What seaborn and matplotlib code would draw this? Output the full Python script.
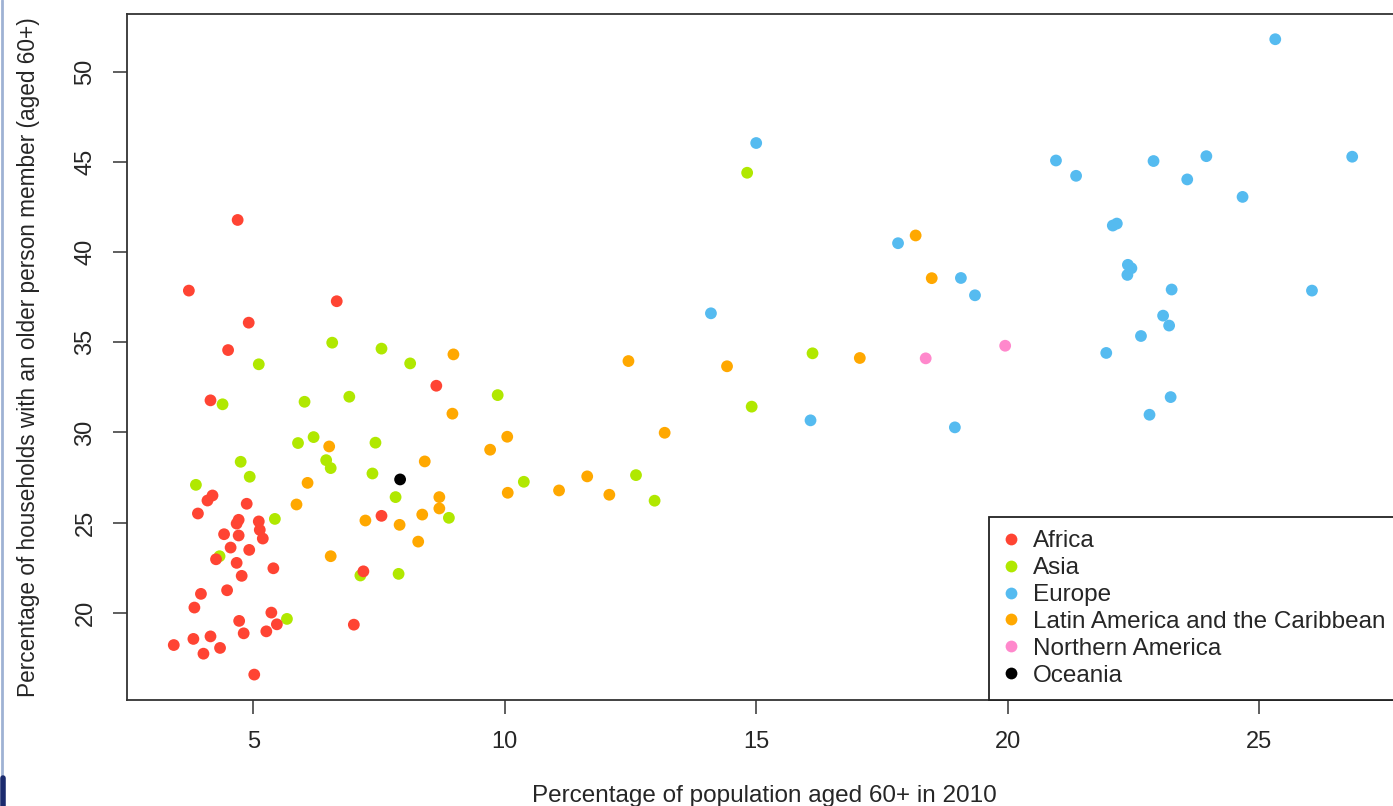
import numpy as np
import pandas as pd
import seaborn as sns
import matplotlib.pyplot as plt
from matplotlib.lines import Line2D

# values (x: % aged 60+ in 2010, y: % households with 60+ member)
africa_x = [4.69, 3.72, 6.66, 4.91, 4.50, 8.64, 4.15, 4.19, 4.09, 4.87, 3.90, 7.55, 4.71, 4.67,
            5.11, 5.13, 5.19, 4.42, 4.71, 4.55, 4.92, 4.26, 4.67, 5.40, 4.77, 7.19, 3.96, 4.48,
            3.83, 5.36, 5.47, 4.72, 5.26, 4.81, 7.00, 3.42, 3.81, 4.15, 4.01, 4.34, 5.02]
africa_y = [41.79, 37.87, 37.28, 36.09, 34.57, 32.59, 31.78, 26.50, 26.22, 26.04, 25.50, 25.37, 25.15, 24.94,
            25.06, 24.59, 24.11, 24.35, 24.28, 23.61, 23.48, 22.96, 22.76, 22.46, 22.04, 22.29, 21.04, 21.24,
            20.28, 20.00, 19.35, 19.54, 18.96, 18.85, 19.33, 18.20, 18.54, 18.68, 17.72, 18.04, 16.56]

asia_x = [6.57, 7.55, 8.12, 5.11, 9.86, 4.39, 6.02, 6.91, 5.89, 6.20, 7.43, 4.75, 6.45, 6.54, 4.93,
          7.37, 3.86, 7.83, 8.89, 5.43, 4.33, 7.13, 7.89, 5.67, 10.38, 12.61, 12.98, 14.82, 16.12, 14.91]
asia_y = [34.98, 34.65, 33.83, 33.78, 32.07, 31.56, 31.70, 31.98, 29.41, 29.74, 29.43, 28.37, 28.46, 28.02, 27.54,
          27.72, 27.09, 26.41, 25.26, 25.20, 23.13, 22.06, 22.15, 19.65, 27.26, 27.63, 26.21, 44.41, 34.39, 31.43]

europe_x = [15.00, 17.82, 19.07, 19.35, 14.10, 16.08, 18.95, 20.96, 21.36, 22.90, 23.95, 23.57, 26.85, 24.67,
            22.09, 22.17, 22.39, 22.46, 22.38, 23.26, 26.05, 23.09, 23.21, 22.65, 21.96, 23.24, 22.82, 25.32]
europe_y = [46.06, 40.50, 38.57, 37.61, 36.61, 30.67, 30.28, 45.09, 44.24, 45.06, 45.33, 44.04, 45.30, 43.07,
            41.48, 41.59, 39.30, 39.11, 38.74, 37.93, 37.87, 36.48, 35.93, 35.35, 34.41, 31.96, 30.98, 51.82]

latam_x = [8.98, 8.96, 6.51, 8.41, 9.71, 6.08, 5.86, 8.70, 8.70, 8.36, 7.23, 7.91, 8.28, 6.54,
           12.46, 13.18, 10.05, 11.64, 11.08, 10.06, 12.08, 18.17, 18.49, 17.06, 14.42]
latam_y = [34.33, 31.04, 29.22, 28.39, 29.04, 27.20, 26.00, 26.41, 25.78, 25.44, 25.11, 24.87, 23.94, 23.13,
           33.96, 29.98, 29.76, 27.56, 26.78, 26.65, 26.54, 40.93, 38.56, 34.13, 33.67]

namerica_x = [18.37, 19.95]
namerica_y = [34.11, 34.81]

oceania_x = [7.92]
oceania_y = [27.39]

regions = ["Africa", "Asia", "Europe", "Latin America and the Caribbean",
           "Northern America", "Oceania"]
colors = ["#ff4433", "#b0e800", "#55bbf0", "#ffa800", "#ff88cc", "#000000"]

# draw order: Africa last so reds sit on top like the original
parts = [
    ("Asia", asia_x, asia_y),
    ("Latin America and the Caribbean", latam_x, latam_y),
    ("Europe", europe_x, europe_y),
    ("Northern America", namerica_x, namerica_y),
    ("Oceania", oceania_x, oceania_y),
    ("Africa", africa_x, africa_y),
]
df = pd.concat([pd.DataFrame({"x": px, "y": py, "region": r}) for r, px, py in parts],
               ignore_index=True)

sns.set_style("white")
plt.rcParams["font.family"] = ["Liberation Sans", "DejaVu Sans"]

fig = plt.figure(figsize=(13.93, 8.06), dpi=100)
ax = fig.add_axes([127 / 1393, 106 / 806, 1275 / 1393, 686 / 806])

sns.scatterplot(data=df, x="x", y="y", hue="region", hue_order=regions,
                palette=dict(zip(regions, colors)), s=72, linewidth=0, ax=ax)

ax.set_xlim(2.49, 27.84)
ax.set_ylim(15.15, 53.22)
ax.set_xticks([5, 10, 15, 20, 25])
ax.set_yticks([20, 25, 30, 35, 40, 45, 50])
for sp in ax.spines.values():
    sp.set_color("#333333")
    sp.set_linewidth(1.3)
ax.tick_params(axis="both", direction="out", length=10, width=1.1, color="#333333",
               labelsize=17, left=True, bottom=True)
ax.tick_params(axis="x", pad=12)
ax.tick_params(axis="y", pad=12)
for lab in ax.get_yticklabels():
    lab.set_rotation(90)
    lab.set_va("center")

ax.set_xlabel("Percentage of population aged 60+ in 2010", fontsize=17.5, labelpad=23.5)
ax.set_ylabel("Percentage of households with an older person member (aged 60+)",
              fontsize=16.3, labelpad=25)

leg = ax.legend(loc="lower left", bbox_to_anchor=(0.6763, 0.0), fontsize=17.5,
                frameon=True, fancybox=False, framealpha=1, edgecolor="#222222",
                borderpad=0.55, handlelength=0.71, handletextpad=0.55, labelspacing=0.2,
                borderaxespad=0, markerscale=1.0)
leg.get_frame().set_linewidth(1.3)

# thin slide frame on the left edge
fig.add_artist(Line2D([0.0015, 0.0015], [0.03, 1.0], color="#9fb2d4", lw=2))
fig.add_artist(Line2D([0.002, 0.002], [0.0, 0.035], color="#1b2b6e", lw=4))

fig.savefig("out.png", dpi=100, facecolor="white")
